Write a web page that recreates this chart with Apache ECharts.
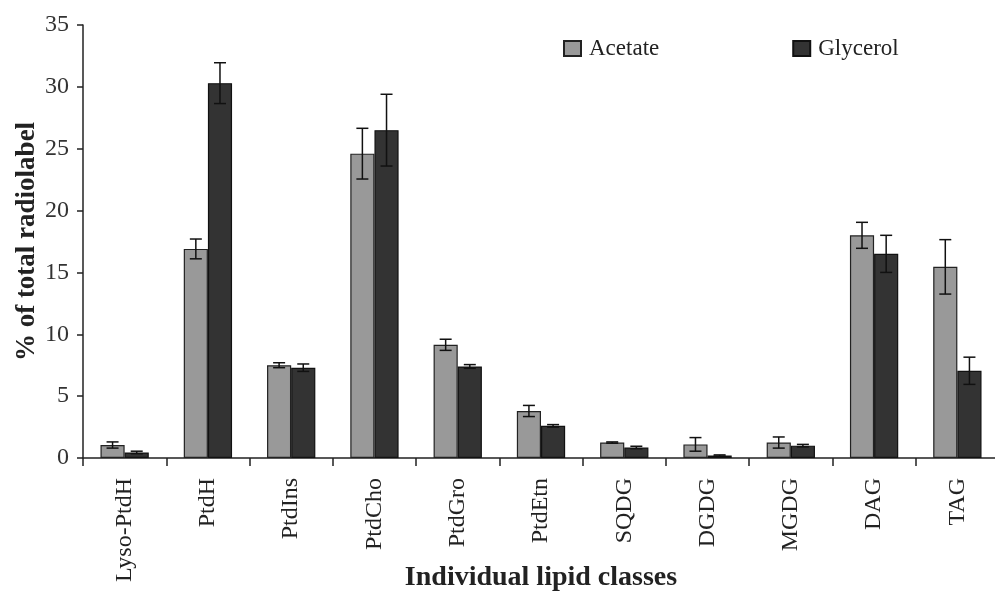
<!DOCTYPE html>
<html>
<head>
<meta charset="utf-8">
<script src="https://cdn.jsdelivr.net/npm/echarts@6/dist/echarts.min.js"></script>
<style>html,body{margin:0;padding:0;background:#fff}#c{width:995px;height:595px}</style>
</head>
<body>
<div id="c"></div>
<script>
var categories = ["Lyso-PtdH","PtdH","PtdIns","PtdCho","PtdGro","PtdEtn","SQDG","DGDG","MGDG","DAG","TAG"];
var acetate = [1.05, 16.9, 7.5, 24.6, 9.15, 3.8, 1.25, 1.1, 1.25, 18.0, 15.45];
var acetateErr = [0.25, 0.8, 0.2, 2.05, 0.45, 0.45, 0.05, 0.55, 0.45, 1.05, 2.2];
var glycerol = [0.45, 30.3, 7.3, 26.5, 7.4, 2.6, 0.85, 0.2, 1.0, 16.5, 7.05];
var glycerolErr = [0.1, 1.65, 0.3, 2.9, 0.15, 0.1, 0.1, 0.05, 0.1, 1.5, 1.1];
var yTicks = [0, 5, 10, 15, 20, 25, 30, 35];

var FONT = "Liberation Serif";
var chart = echarts.init(document.getElementById('c'));

function errSeries(vals, errs, idx) {
  return {
    type: 'custom',
    silent: true,
    z: 10,
    data: vals.map(function (v, i) { return [i, v - errs[i], v + errs[i]]; }),
    encode: { x: 0, y: [1, 2] },
    renderItem: function (params, api) {
      var i = api.value(0);
      var lo = api.coord([i, api.value(1)]);
      var hi = api.coord([i, api.value(2)]);
      var bw = api.size([1, 0])[0];
      var barW = bw * 0.29;
      var x = lo[0] + (idx === 0 ? -barW / 2 : barW / 2);
      var cap = 6;
      var st = { stroke: '#111', lineWidth: 1.5 };
      return {
        type: 'group',
        children: [
          { type: 'line', shape: { x1: x, y1: lo[1], x2: x, y2: hi[1] }, style: st },
          { type: 'line', shape: { x1: x - cap, y1: hi[1], x2: x + cap, y2: hi[1] }, style: st },
          { type: 'line', shape: { x1: x - cap, y1: lo[1], x2: x + cap, y2: lo[1] }, style: st }
        ]
      };
    }
  };
}

chart.setOption({
  animation: false,
  backgroundColor: '#fff',
  textStyle: { fontFamily: FONT, color: '#222' },
  legend: {
    top: 37,
    left: 563,
    padding: 0,
    itemGap: 133,
    itemWidth: 17,
    itemHeight: 15,
    icon: 'rect',
    textStyle: { fontFamily: FONT, fontSize: 23, color: '#222', padding: [0, 0, 0, 3] },
    data: ['Acetate', 'Glycerol']
  },
  grid: { left: 83, top: 25, width: 916, height: 433, containLabel: false, outerBoundsMode: 'none' },
  xAxis: {
    type: 'category',
    data: categories,
    name: 'Individual lipid classes',
    nameLocation: 'middle',
    nameGap: 106,
    nameMoveOverlap: false,
    nameTextStyle: { fontFamily: FONT, fontSize: 28, fontWeight: 'bold', color: '#222' },
    axisLine: { lineStyle: { color: '#222', width: 1.5 } },
    axisTick: { show: true, length: 8, lineStyle: { color: '#222', width: 1.5 } },
    axisLabel: { rotate: 90, fontFamily: FONT, fontSize: 24, color: '#222', margin: 20 }
  },
  yAxis: {
    type: 'value',
    min: 0,
    max: 35,
    interval: 5,
    name: '% of total radiolabel',
    nameLocation: 'middle',
    nameRotate: 90,
    nameGap: 42,
    nameMoveOverlap: false,
    nameTextStyle: { fontFamily: FONT, fontSize: 27, fontWeight: 'bold', color: '#222' },
    axisLine: { show: true, lineStyle: { color: '#222', width: 1.5 } },
    axisTick: { show: true, length: 6, lineStyle: { color: '#222', width: 1.5 } },
    splitLine: { show: false },
    axisLabel: {
      fontFamily: FONT, fontSize: 24, color: '#333', margin: 14,
      formatter: function (v) { return yTicks.indexOf(v) >= 0 ? String(v) : ''; }
    }
  },
  series: [
    {
      name: 'Acetate', type: 'bar', data: acetate, barWidth: '29%', barGap: '0%',
      itemStyle: { color: '#999999', borderColor: '#222', borderWidth: 1.2 }
    },
    {
      name: 'Glycerol', type: 'bar', data: glycerol, barWidth: '29%', barGap: '0%',
      itemStyle: { color: '#333333', borderColor: '#111', borderWidth: 1.2 }
    },
    errSeries(acetate, acetateErr, 0),
    errSeries(glycerol, glycerolErr, 1)
  ]
});
</script>
</body>
</html>
